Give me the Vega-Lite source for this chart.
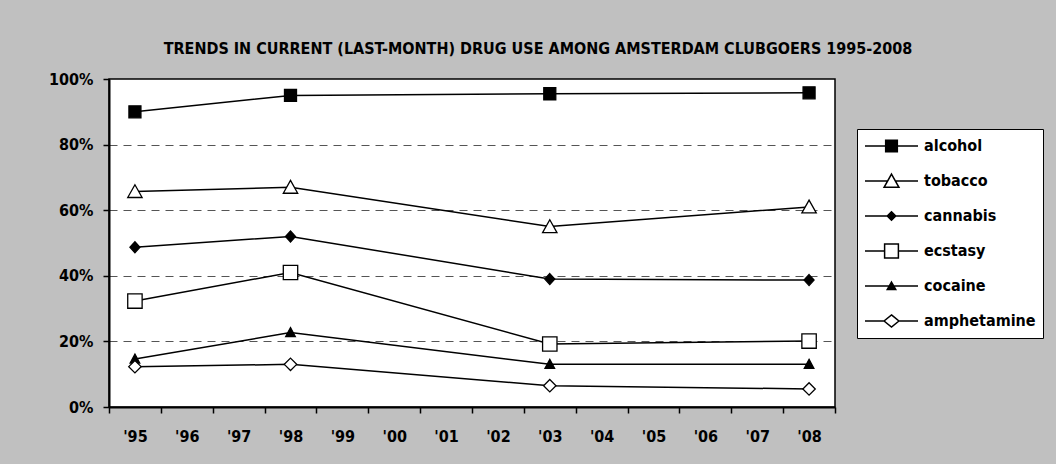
{
  "$schema": "https://vega.github.io/schema/vega-lite/v6.json",
  "width": 726,
  "height": 328,
  "autosize": {"type": "none"},
  "padding": {"left": 109, "top": 79, "right": 221, "bottom": 57},
  "background": "#C0C0C0",
  "title": {
    "text": "TRENDS IN CURRENT (LAST-MONTH) DRUG USE AMONG AMSTERDAM CLUBGOERS 1995-2008",
    "font": "Liberation Sans Narrow, DejaVu Sans Condensed, sans-serif",
    "fontSize": 16,
    "fontWeight": "bold",
    "color": "black",
    "anchor": "middle",
    "frame": "group",
    "dx": 66,
    "offset": 14
  },
  "config": {
    "view": {"fill": "white", "stroke": "black", "strokeWidth": 1.5},
    "axis": {
      "labelFont": "Liberation Sans Narrow, DejaVu Sans Condensed, sans-serif",
      "labelFontWeight": "bold",
      "labelFontSize": 16,
      "labelColor": "black",
      "domainColor": "black",
      "domainWidth": 2,
      "tickColor": "black",
      "tickWidth": 1.5,
      "tickSize": 6,
      "title": null
    }
  },
  "data": {
    "values": [
      {"drug": "alcohol", "year": "'95", "value": 0.90},
      {"drug": "alcohol", "year": "'98", "value": 0.95},
      {"drug": "alcohol", "year": "'03", "value": 0.955},
      {"drug": "alcohol", "year": "'08", "value": 0.958},
      {"drug": "tobacco", "year": "'95", "value": 0.657},
      {"drug": "tobacco", "year": "'98", "value": 0.67},
      {"drug": "tobacco", "year": "'03", "value": 0.55},
      {"drug": "tobacco", "year": "'08", "value": 0.61},
      {"drug": "cannabis", "year": "'95", "value": 0.487},
      {"drug": "cannabis", "year": "'98", "value": 0.52},
      {"drug": "cannabis", "year": "'03", "value": 0.39},
      {"drug": "cannabis", "year": "'08", "value": 0.387},
      {"drug": "ecstasy", "year": "'95", "value": 0.323},
      {"drug": "ecstasy", "year": "'98", "value": 0.41},
      {"drug": "ecstasy", "year": "'03", "value": 0.192},
      {"drug": "ecstasy", "year": "'08", "value": 0.201},
      {"drug": "cocaine", "year": "'95", "value": 0.146},
      {"drug": "cocaine", "year": "'98", "value": 0.227},
      {"drug": "cocaine", "year": "'03", "value": 0.13},
      {"drug": "cocaine", "year": "'08", "value": 0.13},
      {"drug": "amphetamine", "year": "'95", "value": 0.123},
      {"drug": "amphetamine", "year": "'98", "value": 0.13},
      {"drug": "amphetamine", "year": "'03", "value": 0.065},
      {"drug": "amphetamine", "year": "'08", "value": 0.055}
    ]
  },
  "encoding": {
    "x": {
      "field": "year",
      "type": "ordinal",
      "sort": null,
      "scale": {
        "domain": ["'95", "'96", "'97", "'98", "'99", "'00", "'01", "'02", "'03", "'04", "'05", "'06", "'07", "'08"],
        "paddingInner": 0,
        "paddingOuter": 0
      },
      "axis": {"labelAngle": 0, "tickBand": "extent", "labelPadding": 15, "grid": false}
    },
    "y": {
      "field": "value",
      "type": "quantitative",
      "scale": {"domain": [0, 1], "nice": false},
      "axis": {
        "format": ".0%",
        "values": [0, 0.2, 0.4, 0.6, 0.8, 1],
        "labelPadding": 10,
        "grid": true,
        "gridDash": [8, 6],
        "gridWidth": 1,
        "gridColor": {"condition": {"test": "datum.value == 0 || datum.value == 1", "value": "transparent"}, "value": "#555555"}
      }
    }
  },
  "layer": [
    {
      "mark": {"type": "line", "color": "black", "strokeWidth": 1.5},
      "encoding": {"detail": {"field": "drug"}}
    },
    {
      "mark": {"type": "point", "filled": true, "stroke": "black", "strokeWidth": 1.3, "opacity": 1, "size": 400},
      "encoding": {
        "shape": {
          "field": "drug",
          "scale": {
            "domain": ["alcohol", "tobacco", "cannabis", "ecstasy", "cocaine", "amphetamine"],
            "range": [
              "M-0.6,-0.6H0.6V0.6H-0.6Z",
              "M0,-0.68L0.72,0.6H-0.72Z",
              "M0,-0.55L0.5,0L0,0.55L-0.5,0Z",
              "M-0.72,-0.72H0.72V0.72H-0.72Z",
              "M0,-0.5L0.48,0.4H-0.48Z",
              "M0,-0.62L0.62,0L0,0.62L-0.62,0Z"
            ]
          },
          "legend": null
        },
        "fill": {
          "field": "drug",
          "scale": {
            "domain": ["alcohol", "tobacco", "cannabis", "ecstasy", "cocaine", "amphetamine"],
            "range": ["black", "white", "black", "white", "black", "white"]
          },
          "legend": null
        }
      }
    },
    {
      "transform": [{"filter": "false"}],
      "mark": {"type": "point", "filled": true, "stroke": "black", "strokeWidth": 1.3, "opacity": 1},
      "encoding": {
        "shape": {
          "field": "drug",
          "scale": {
            "domain": ["alcohol", "tobacco", "cannabis", "ecstasy", "cocaine", "amphetamine"],
            "range": [
              "M-1,0H-0.22M0.22,0H1M-0.22,-0.22H0.22V0.22H-0.22Z",
              "M-1,0H-0.15M0.15,0H1M0,-0.26L0.28,0.24H-0.28Z",
              "M-1,0H-0.16M0.16,0H1M0,-0.16L0.16,0L0,0.16L-0.16,0Z",
              "M-1,0H-0.26M0.26,0H1M-0.26,-0.26H0.26V0.26H-0.26Z",
              "M-1,0H-0.09M0.09,0H1M0,-0.15L0.16,0.13H-0.16Z",
              "M-1,0H-0.28M0.28,0H1M0,-0.23L0.28,0L0,0.23L-0.28,0Z"
            ]
          },
          "legend": {
            "title": null,
            "orient": "none",
            "legendX": 748,
            "legendY": 50,
            "symbolSize": 2809,
            "clipHeight": 20,
            "labelFont": "Liberation Sans Narrow, DejaVu Sans Condensed, sans-serif",
            "labelFontWeight": "bold",
            "labelFontSize": 16,
            "labelColor": "black",
            "labelOffset": 5,
            "fillColor": "white",
            "strokeColor": "black",
            "padding": 7,
            "rowPadding": 15,
            "encode": {
              "symbols": {"update": {"stroke": {"value": "black"}, "strokeWidth": {"value": 1.3}}},
              "legend": {"update": {"strokeWidth": {"value": 1.8}}}
            }
          }
        },
        "fill": {
          "field": "drug",
          "scale": {
            "domain": ["alcohol", "tobacco", "cannabis", "ecstasy", "cocaine", "amphetamine"],
            "range": ["black", "white", "black", "white", "black", "white"]
          },
          "legend": {
            "title": null,
            "orient": "none",
            "legendX": 748,
            "legendY": 50,
            "symbolSize": 2809,
            "clipHeight": 20,
            "labelFont": "Liberation Sans Narrow, DejaVu Sans Condensed, sans-serif",
            "labelFontWeight": "bold",
            "labelFontSize": 16,
            "labelColor": "black",
            "labelOffset": 5,
            "fillColor": "white",
            "strokeColor": "black",
            "padding": 7,
            "rowPadding": 15,
            "encode": {
              "symbols": {"update": {"stroke": {"value": "black"}, "strokeWidth": {"value": 1.3}}},
              "legend": {"update": {"strokeWidth": {"value": 1.8}}}
            }
          }
        }
      }
    }
  ],
  "resolve": {"scale": {"shape": "independent", "fill": "independent"}}
}
